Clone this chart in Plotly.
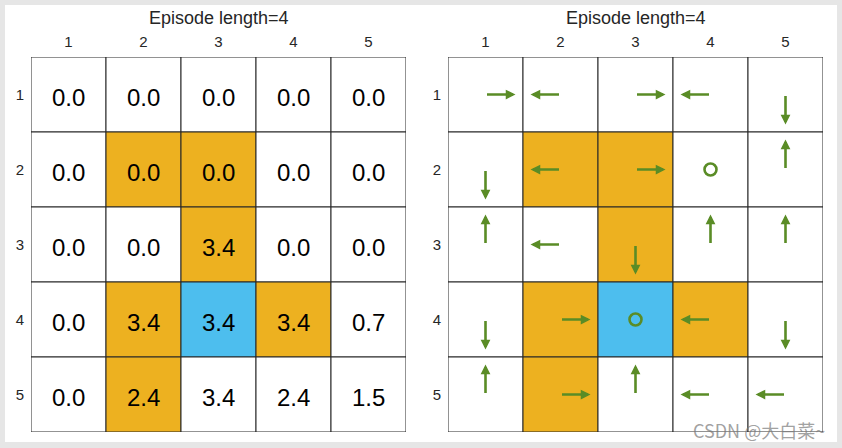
import plotly.graph_objects as go

# ---------------- data ----------------
cols = [1, 2, 3, 4, 5]
rows = [1, 2, 3, 4, 5]
col_labels = ["1", "2", "3", "4", "5"]
row_labels = ["1", "2", "3", "4", "5"]
title_text = "Episode length=4"

# state values (row-major, rows 1..5)
values = [
    [0.0, 0.0, 0.0, 0.0, 0.0],
    [0.0, 0.0, 0.0, 0.0, 0.0],
    [0.0, 0.0, 3.4, 0.0, 0.0],
    [0.0, 3.4, 3.4, 3.4, 0.7],
    [0.0, 2.4, 3.4, 2.4, 1.5],
]

# cell type: 0 = normal, 1 = forbidden (orange), 2 = target (blue)
cell_type = [
    [0, 0, 0, 0, 0],
    [0, 1, 1, 0, 0],
    [0, 0, 1, 0, 0],
    [0, 1, 2, 1, 0],
    [0, 1, 0, 0, 0],
]

# policy actions: R right, L left, U up, D down, S stay
policy = [
    ["R", "L", "R", "L", "D"],
    ["D", "L", "R", "S", "U"],
    ["U", "L", "D", "U", "U"],
    ["D", "R", "S", "L", "D"],
    ["U", "R", "U", "L", "L"],
]

# ---------------- styles ----------------
type_colors = {0: "#FFFFFF", 1: "#EDB120", 2: "#4DBEEE"}
green = "#5A8C26"
line_col = "#262626"
font_fam = "Liberation Sans, Arial, sans-serif"
arrow_len = 0.4
dirs = {"R": (1, 0), "L": (-1, 0), "U": (0, -1), "D": (0, 1)}

W, H = 842, 448
ml, mr, mt, mb = 31, 19, 57, 16
pw = W - ml - mr
ph = H - mt - mb

def px_x(p):
    return (p - ml) / pw

def px_y(p):
    return (H - mb - p) / ph

fig = go.Figure()

shapes = []
annotations = []

# white panel over gray background
shapes.append(dict(type="rect", xref="paper", yref="paper",
                   x0=px_x(5), x1=px_x(837), y0=px_y(442), y1=px_y(5),
                   fillcolor="white", line=dict(width=0), layer="below"))

for k, (xa, ya) in enumerate([("x", "y"), ("x2", "y2")]):
    for i, r in enumerate(rows):
        for j, c in enumerate(cols):
            shapes.append(dict(type="rect", xref=xa, yref=ya,
                               x0=c - 0.5, x1=c + 0.5, y0=r - 0.5, y1=r + 0.5,
                               fillcolor=type_colors[cell_type[i][j]],
                               line=dict(color=line_col, width=1), layer="below"))

# values text on left grid
for i, r in enumerate(rows):
    for j, c in enumerate(cols):
        annotations.append(dict(xref="x", yref="y", x=c, y=r,
                                text=f"{values[i][j]:.1f}", showarrow=False,
                                xanchor="center", yanchor="middle", yshift=-3,
                                font=dict(size=24, color="black", family=font_fam)))

# policy on right grid
sx, sy = [], []
for i, r in enumerate(rows):
    for j, c in enumerate(cols):
        a = policy[i][j]
        if a == "S":
            sx.append(c)
            sy.append(r)
        else:
            dx, dy = dirs[a]
            annotations.append(dict(
                xref="x2", yref="y2", axref="x2", ayref="y2",
                x=c + dx * arrow_len, y=r + dy * arrow_len,
                ax=c, ay=r, text="", showarrow=True,
                arrowhead=2, arrowsize=0.75, arrowwidth=2.6, arrowcolor=green,
                standoff=0, startstandoff=0))
fig.add_trace(go.Scatter(x=sx, y=sy, mode="markers",
                         marker=dict(symbol="circle-open", size=12, color=green,
                                     line=dict(width=2.6, color=green)),
                         hoverinfo="skip", showlegend=False, xaxis="x2", yaxis="y2"))
# invisible trace to anchor left axes
fig.add_trace(go.Scatter(x=[cols[0]], y=[rows[0]], mode="markers",
                         marker=dict(opacity=0), hoverinfo="skip",
                         showlegend=False, xaxis="x", yaxis="y"))

# titles
for cx in (px_x(218.5), px_x(635.5)):
    annotations.append(dict(xref="paper", yref="paper", x=cx, y=px_y(18),
                            text=title_text, showarrow=False,
                            xanchor="center", yanchor="middle",
                            font=dict(size=18, color="#262626", family=font_fam)))

# watermark
annotations.append(dict(xref="paper", yref="paper", x=px_x(759), y=px_y(430),
                        text="CSDN @大白菜~", showarrow=False,
                        xanchor="center", yanchor="middle",
                        font=dict(size=18, color="rgba(120,120,120,0.7)",
                                  family="Noto Sans CJK SC, sans-serif")))

axis_common = dict(showgrid=False, zeroline=False, showline=False, ticks="",
                   tickfont=dict(size=15, color="#262626", family=font_fam),
                   fixedrange=True)

d1 = [0, px_x(406)]
d2 = [px_x(448), 1]

fig.update_layout(
    width=W, height=H,
    margin=dict(l=ml, r=mr, t=mt, b=mb),
    paper_bgcolor="#E6E6E6",
    plot_bgcolor="rgba(0,0,0,0)",
    xaxis=dict(domain=d1, range=[0.5, 5.5], side="top", tickvals=cols,
               ticktext=col_labels, anchor="y", ticklabelstandoff=6, **axis_common),
    yaxis=dict(domain=[0, 1], range=[5.5, 0.5], tickvals=rows,
               ticktext=row_labels, anchor="x", ticklabelstandoff=6, **axis_common),
    xaxis2=dict(domain=d2, range=[0.5, 5.5], side="top", tickvals=cols,
                ticktext=col_labels, anchor="y2", ticklabelstandoff=6, **axis_common),
    yaxis2=dict(domain=[0, 1], range=[5.5, 0.5], tickvals=rows,
                ticktext=row_labels, anchor="x2", ticklabelstandoff=6, **axis_common),
    shapes=shapes,
    annotations=annotations,
    showlegend=False,
)

fig.write_html("out.html", config={"displayModeBar": False},
               post_script="document.body.style.margin='0';document.body.style.overflow='hidden';")
